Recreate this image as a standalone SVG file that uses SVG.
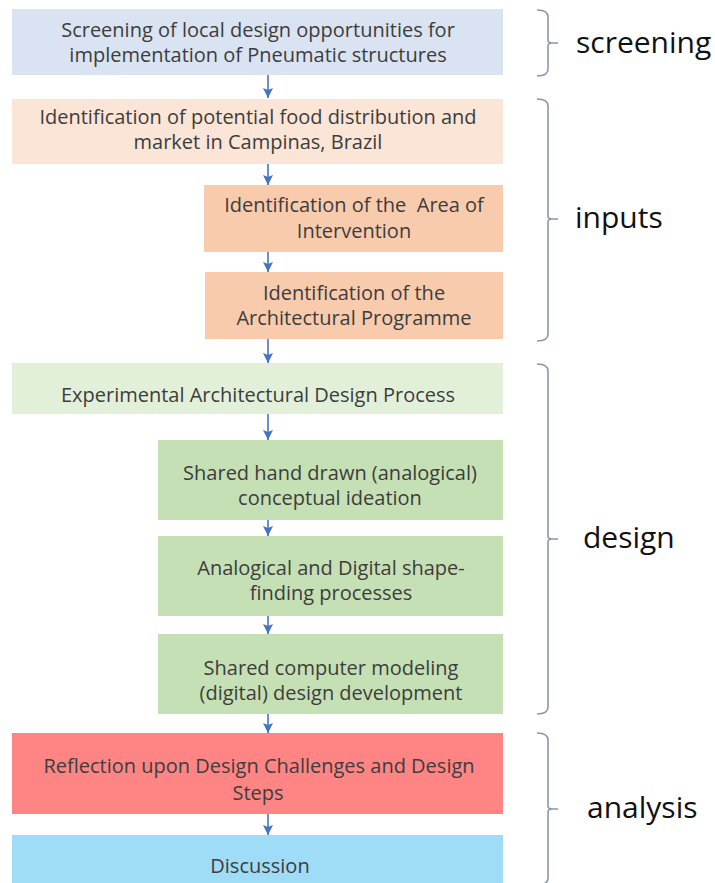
<svg xmlns="http://www.w3.org/2000/svg" width="715" height="883" viewBox="0 0 715 883">
  <defs>
    <marker id="ah" viewBox="0 0 10 10" refX="10" refY="5" markerWidth="10" markerHeight="10" markerUnits="userSpaceOnUse" orient="auto">
      <path d="M0,0 L10,5 L0,10 L2,5 Z" fill="#4472C4"/>
    </marker>
    <style>
      .t { font-family: "Open Sans", "Liberation Sans", sans-serif; font-size: 20px; fill: #3d3d3d; text-anchor: middle; }
      .lbl { font-family: "Open Sans", "Liberation Sans", sans-serif; font-size: 30px; fill: #111; }
      .br { fill: none; stroke: #8a97aa; stroke-width: 1.6; }
      .ar { stroke: #4472C4; stroke-width: 1.6; fill: none; marker-end: url(#ah); }
    </style>
  </defs>
  <rect width="715" height="883" fill="#ffffff"/>

  <g id="connectors">
    <line class="ar" x1="268" y1="75" x2="268" y2="98"/>
    <line class="ar" x1="268" y1="164" x2="268" y2="185"/>
    <line class="ar" x1="268" y1="252" x2="268" y2="272"/>
    <line class="ar" x1="268" y1="339" x2="268" y2="363"/>
    <line class="ar" x1="268" y1="414" x2="268" y2="440"/>
    <line class="ar" x1="268" y1="520" x2="268" y2="536"/>
    <line class="ar" x1="268" y1="616" x2="268" y2="634"/>
    <line class="ar" x1="268" y1="714" x2="268" y2="733"/>
    <line class="ar" x1="268" y1="814" x2="268" y2="835"/>
  </g>

  <g id="n-screening">
    <rect x="12" y="9" width="491" height="66" fill="#D9E3F2"/>
    <text class="t" x="258" y="37">Screening of local design opportunities for</text>
    <text class="t" x="258" y="62">implementation of Pneumatic structures</text>
  </g>
  <g id="n-food">
    <rect x="12" y="99" width="491" height="65" fill="#FBE5D6"/>
    <text class="t" x="258" y="124">Identification of potential food distribution and</text>
    <text class="t" x="258" y="149">market in Campinas, Brazil</text>
  </g>
  <g id="n-area">
    <rect x="204" y="185" width="299" height="67" fill="#F8CBAD"/>
    <text class="t" x="354" y="212">Identification of the&#160; Area of</text>
    <text class="t" x="354" y="238">Intervention</text>
  </g>
  <g id="n-programme">
    <rect x="205" y="272" width="298" height="67" fill="#F8CBAD"/>
    <text class="t" x="354" y="300">Identification of the</text>
    <text class="t" x="354" y="325">Architectural Programme</text>
  </g>
  <g id="n-experimental">
    <rect x="12" y="363" width="491" height="51" fill="#E2F0D9"/>
    <text class="t" x="258" y="402">Experimental Architectural Design Process</text>
  </g>
  <g id="n-hand">
    <rect x="158" y="440" width="345" height="80" fill="#C5E0B4"/>
    <text class="t" x="330" y="480">Shared hand drawn (analogical)</text>
    <text class="t" x="330" y="505">conceptual ideation</text>
  </g>
  <g id="n-shape">
    <rect x="158" y="536" width="345" height="80" fill="#C5E0B4"/>
    <text class="t" x="331" y="575">Analogical and Digital shape-</text>
    <text class="t" x="331" y="600">finding processes</text>
  </g>
  <g id="n-computer">
    <rect x="158" y="634" width="345" height="80" fill="#C5E0B4"/>
    <text class="t" x="331" y="675">Shared computer modeling</text>
    <text class="t" x="331" y="700">(digital) design development</text>
  </g>
  <g id="n-reflection">
    <rect x="12" y="733" width="491" height="81" fill="#FF8585"/>
    <text class="t" x="259" y="773">Reflection upon Design Challenges and Design</text>
    <text class="t" x="258" y="800">Steps</text>
  </g>
  <g id="n-discussion">
    <rect x="12" y="835" width="491" height="60" fill="#9EDCF7"/>
    <text class="t" x="260" y="873">Discussion</text>
  </g>

  <g id="b-screening">
    <path class="br" d="M537,10 Q548,10 548,17 V40 Q548,43 552,43 H558 M552,43 Q548,43 548,46 V69 Q548,76 537,76"/>
    <text class="lbl" x="576" y="53">screening</text>
  </g>
  <g id="b-inputs">
    <path class="br" d="M537,99 Q548,99 548,106 V216 Q548,219 552,219 H558 M552,219 Q548,219 548,222 V334 Q548,341 537,341"/>
    <text class="lbl" x="575" y="228">inputs</text>
  </g>
  <g id="b-design">
    <path class="br" d="M537,364 Q548,364 548,371 V536 Q548,539 552,539 H558 M552,539 Q548,539 548,542 V707 Q548,714 537,714"/>
    <text class="lbl" x="583" y="548">design</text>
  </g>
  <g id="b-analysis">
    <path class="br" d="M537,733 Q548,733 548,740 V806 Q548,809 552,809 H558 M552,809 Q548,809 548,812 V878 Q548,885 537,885"/>
    <text class="lbl" x="587" y="818">analysis</text>
  </g>
</svg>
